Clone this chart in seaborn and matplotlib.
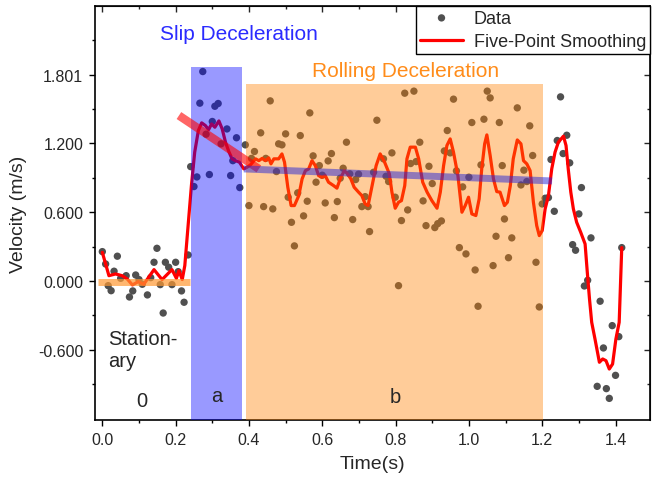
import matplotlib
matplotlib.use("Agg")
import matplotlib.pyplot as plt
import seaborn as sns
import pandas as pd

# raw velocity samples
data_t = [0.000, 0.009, 0.016, 0.024, 0.032, 0.041, 0.050, 0.065, 0.074, 0.083,
          0.091, 0.100, 0.109, 0.123, 0.132, 0.141, 0.149, 0.158, 0.166, 0.172,
          0.181, 0.190, 0.200, 0.207, 0.216, 0.223, 0.234,
          0.241, 0.250, 0.258, 0.266, 0.274, 0.283, 0.292, 0.300, 0.307, 0.316,
          0.324, 0.340, 0.350, 0.356, 0.366, 0.375,
          0.390, 0.400, 0.407, 0.415, 0.432, 0.440, 0.446, 0.458, 0.465, 0.475,
          0.481, 0.490, 0.500, 0.507, 0.516, 0.524, 0.533, 0.540, 0.549, 0.559,
          0.566, 0.575, 0.583, 0.592, 0.600, 0.608, 0.616, 0.625, 0.633, 0.641,
          0.649, 0.657, 0.666, 0.675, 0.683, 0.691, 0.699, 0.708, 0.717, 0.725,
          0.729, 0.740, 0.749, 0.767, 0.774, 0.781, 0.790, 0.799, 0.808, 0.816,
          0.825, 0.833, 0.841, 0.850, 0.856, 0.866, 0.875, 0.883, 0.891, 0.900,
          0.907, 0.915, 0.925, 0.933, 0.941, 0.949, 0.958, 0.966, 0.974, 0.983,
          0.992, 1.000, 1.008, 1.017, 1.025, 1.033, 1.041, 1.050, 1.058, 1.066,
          1.074, 1.083, 1.091, 1.097, 1.108, 1.117, 1.132, 1.142, 1.150, 1.158,
          1.166, 1.174, 1.183, 1.192, 1.200,
          1.208, 1.217, 1.224, 1.233, 1.241, 1.250, 1.257, 1.267, 1.275, 1.283,
          1.291, 1.300, 1.307, 1.315, 1.324, 1.333, 1.350, 1.358, 1.367, 1.375,
          1.383, 1.391, 1.400, 1.409, 1.417]
data_v = [0.256, 0.148, -0.041, -0.085, 0.085, 0.216, 0.023, 0.046, -0.140, -0.087,
          0.052, 0.012, -0.029, -0.122, 0.029, 0.163, 0.285, -0.032, -0.280, 0.163,
          0.120, -0.032, 0.163, 0.081, -0.087, -0.186, 0.227,
          0.998, 0.824, 0.908, 1.552, 1.828, 1.281, 0.929, 1.392, 1.525, 1.549,
          1.197, 1.327, 0.920, 1.050, 1.250, 0.815,
          1.188, 0.658, 1.070, 1.130, 1.293, 0.649, 1.070, 1.572, 0.629, 0.955,
          1.197, 1.188, 1.284, 0.731, 0.512, 0.306, 0.769, 1.269, 0.568, 0.696,
          1.467, 1.092, 0.862, 1.007, 0.923, 0.681, 1.048, 1.112, 0.553, 0.693,
          0.897, 0.984, 1.211, 0.935, 0.536, 0.885, 0.932, 0.649, 0.736, 0.649,
          0.431, 0.949, 1.403, 1.066, 0.914, 0.868, 1.118, 0.731, -0.041, 0.527,
          1.639, 0.620, 1.025, 1.657, 1.042, 1.211, 0.699, 0.483, 1.001, 0.850,
          0.466, 0.500, 0.524, 1.135, 1.313, 1.118, 1.587, 0.961, 0.291, 0.821,
          0.236, 0.906, 1.383, 0.096, -0.221, 1.013, 1.412, 1.657, 1.598, 0.134,
          0.390, 1.383, 1.007, 0.541, 0.203, 0.376, 1.511, 0.838, 0.967, 0.868,
          1.354, 1.095, 0.163, -0.227, 0.672,
          0.722, 0.728, 1.060, 0.608, 1.226, 1.607, 1.112, 1.272, 1.031, 0.317,
          0.268, 0.585, 0.815, -0.044, 0.006, 0.376, -0.920, -0.177, -0.585, -0.940,
          -1.025, -0.390, -0.824, -0.486, 0.291]

# five-point smoothing curve
smooth_t = [0.000, 0.018, 0.036, 0.054, 0.068, 0.082, 0.098, 0.113, 0.141, 0.163,
            0.190, 0.202, 0.209, 0.218, 0.225, 0.234, 0.243, 0.252, 0.262, 0.271,
            0.281, 0.290, 0.298, 0.307, 0.318, 0.327, 0.336, 0.345, 0.354, 0.363,
            0.374, 0.386, 0.395, 0.404, 0.418, 0.427, 0.436, 0.445, 0.454, 0.460,
            0.468, 0.481, 0.490, 0.497, 0.506, 0.515, 0.524, 0.536, 0.545, 0.554,
            0.563, 0.572, 0.581, 0.590, 0.599, 0.608, 0.617, 0.631, 0.640, 0.649,
            0.660, 0.669, 0.678, 0.687, 0.699, 0.708, 0.717, 0.725, 0.736, 0.747,
            0.758, 0.770, 0.783, 0.790, 0.799, 0.808, 0.816, 0.825, 0.831, 0.840,
            0.854, 0.863, 0.874, 0.886, 0.899, 0.913, 0.922, 0.931, 0.940, 0.949,
            0.958, 0.970, 0.981, 0.990, 0.999, 1.008, 1.019, 1.028, 1.035, 1.043,
            1.049, 1.058, 1.067, 1.076, 1.085, 1.097, 1.105, 1.113, 1.121, 1.132,
            1.142, 1.149, 1.158, 1.167, 1.176, 1.185, 1.192, 1.200, 1.208, 1.217,
            1.226, 1.235, 1.244, 1.258, 1.265, 1.271, 1.278, 1.285, 1.294, 1.305,
            1.317, 1.323, 1.329, 1.335, 1.344, 1.356, 1.365, 1.374, 1.383, 1.392,
            1.401, 1.410, 1.417]
smooth_v = [0.250, 0.046, 0.061, 0.046, 0.017, -0.035, -0.006, -0.029, 0.099, 0.012,
            0.099, 0.023, 0.090, 0.012, 0.134, 0.483, 0.832, 1.124, 1.313, 1.380,
            1.357, 1.321, 1.371, 1.342, 1.397, 1.327, 1.211, 1.130, 1.065, 1.050,
            1.037, 0.978, 0.993, 1.013, 1.066, 1.050, 1.070, 1.050, 1.074, 1.022,
            1.066, 1.066, 1.109, 1.037, 0.818, 0.658, 0.658, 0.745, 0.891, 0.963,
            0.978, 1.050, 1.007, 0.920, 0.905, 0.920, 0.862, 0.832, 0.810, 0.891,
            0.963, 0.935, 0.891, 0.818, 0.775, 0.745, 0.672, 0.658, 0.832, 1.007,
            1.109, 1.037, 0.935, 0.775, 0.635, 0.687, 0.701, 0.832, 1.066, 1.168,
            1.168, 1.066, 0.862, 0.775, 0.701, 0.635, 0.775, 1.007, 1.182, 1.240,
            1.124, 0.920, 0.600, 0.658, 0.731, 0.585, 0.571, 0.716, 0.978, 1.197,
            1.275, 1.095, 0.891, 0.780, 0.775, 0.658, 0.687, 0.832, 1.066, 1.231,
            1.197, 1.050, 1.022, 0.963, 0.687, 0.483, 0.396, 0.440, 0.629, 0.745,
            0.978, 1.124, 1.211, 1.264, 1.182, 0.978, 0.775, 0.629, 0.512, 0.425,
            0.323, 0.076, -0.157, -0.361, -0.507, -0.710, -0.681, -0.696, -0.769, -0.725,
            -0.507, -0.361, 0.291]

# trend bands for each phase
stationary_t = [-0.011, 0.239]
stationary_v = [-0.006, -0.006]
slip_t = [0.209, 0.427]
slip_v = [1.444, 0.978]
rolling_t = [0.386, 1.227]
rolling_v = [0.978, 0.873]

# phase windows: start, end, top
slip_window = [0.241, 0.382, 1.869]
rolling_window = [0.391, 1.203, 1.72]

xticks = [0.0, 0.2, 0.4, 0.6, 0.8, 1.0, 1.2, 1.4]
xminor = [0.1, 0.3, 0.5, 0.7, 0.9, 1.1, 1.3]
yticks = [-0.6, 0.0, 0.6, 1.2, 1.801]
ytick_labels = ["-0.600", "0.000", "0.600", "1.200", "1.801"]
yminor = [-0.9, -0.3, 0.3, 0.9, 1.5, 2.1]

sns.set_style("ticks")
plt.rcParams["font.family"] = ["Liberation Sans", "DejaVu Sans"]

xlo, xhi = -0.02, 1.494
ylo, yhi = -1.214, 2.40

fig = plt.figure(figsize=(6.52, 4.81), dpi=100)
ax = fig.add_axes([0.1457, 0.1247, 0.8512, 0.8607])

df = pd.DataFrame({"t": data_t, "v": data_v})
sm = pd.DataFrame({"t": smooth_t, "v": smooth_v})

sns.scatterplot(data=df, x="t", y="v", ax=ax, color="#505050", s=28,
                edgecolor="none", label="Data", zorder=2)
sns.lineplot(data=sm, x="t", y="v", ax=ax, color="red", lw=2.3, sort=False,
             estimator=None, label="Five-Point Smoothing", zorder=2.5)

ax.fill_between(slip_window[:2], ylo, slip_window[2], color="#0000ff",
                alpha=0.4, lw=0, zorder=3)
ax.fill_between(rolling_window[:2], ylo, rolling_window[2], color="#ff8000",
                alpha=0.4, lw=0, zorder=3)

ax.plot(stationary_t, stationary_v, color="#ff9933", alpha=0.7, lw=5,
        solid_capstyle="butt", zorder=4)
ax.plot(slip_t, slip_v, color="#ff0000", alpha=0.6, lw=6,
        solid_capstyle="butt", zorder=4)
ax.plot(rolling_t, rolling_v, color="#2525d8", alpha=0.5, lw=5,
        solid_capstyle="butt", zorder=4)

ax.text(0.373, 2.157, "Slip Deceleration", color="#2b2bff", fontsize=15,
        ha="center", va="center")
ax.text(0.828, 1.834, "Rolling Deceleration", color="#ff8c1a", fontsize=15,
        ha="center", va="center")
ax.text(0.015, -0.595, "Station-\nary", fontsize=14.5, ha="left", va="center",
        zorder=5)
ax.text(0.107, -1.045, "0", fontsize=14.5, ha="center", va="center", zorder=5)
ax.text(0.312, -1.0, "a", fontsize=14.5, ha="center", va="center", zorder=5)
ax.text(0.80, -1.01, "b", fontsize=14.5, ha="center", va="center", zorder=5)

ax.set_xlim(xlo, xhi)
ax.set_ylim(ylo, yhi)
ax.set_xticks(xticks)
ax.set_xticks(xminor, minor=True)
ax.set_yticks(yticks)
ax.set_yticklabels(ytick_labels)
ax.set_yticks(yminor, minor=True)
ax.tick_params(which="major", direction="out", length=4.5, width=1,
               labelsize=11.5, pad=4, color="black")
ax.tick_params(which="minor", direction="out", length=2.5, width=1, color="black")
ax.set_xlabel("Time(s)", fontsize=14, labelpad=6)
ax.set_ylabel("Velocity (m/s)", fontsize=14, labelpad=8)

for s in ax.spines.values():
    s.set_linewidth(1.2)
    s.set_color("black")

top = ax.secondary_xaxis("top")
top.set_xticks(xticks)
top.set_xticks(xminor, minor=True)
top.tick_params(which="major", direction="in", length=4.5, width=1, labeltop=False)
top.tick_params(which="minor", direction="in", length=2.5, width=1)
right = ax.secondary_yaxis("right")
right.set_yticks(yticks)
right.set_yticks(yminor, minor=True)
right.tick_params(which="major", direction="in", length=4.5, width=1, labelright=False)
right.tick_params(which="minor", direction="in", length=2.5, width=1)

leg = ax.legend(loc="upper right", bbox_to_anchor=(1.0, 1.0), borderaxespad=0,
                fontsize=13, frameon=True, fancybox=False, edgecolor="black",
                framealpha=1, borderpad=0.2, labelspacing=0.35,
                handlelength=2.4, handletextpad=0.6, markerscale=1.0)
leg.get_frame().set_linewidth(1.0)
leg.set_zorder(10)

fig.savefig("out.png", dpi=100)
